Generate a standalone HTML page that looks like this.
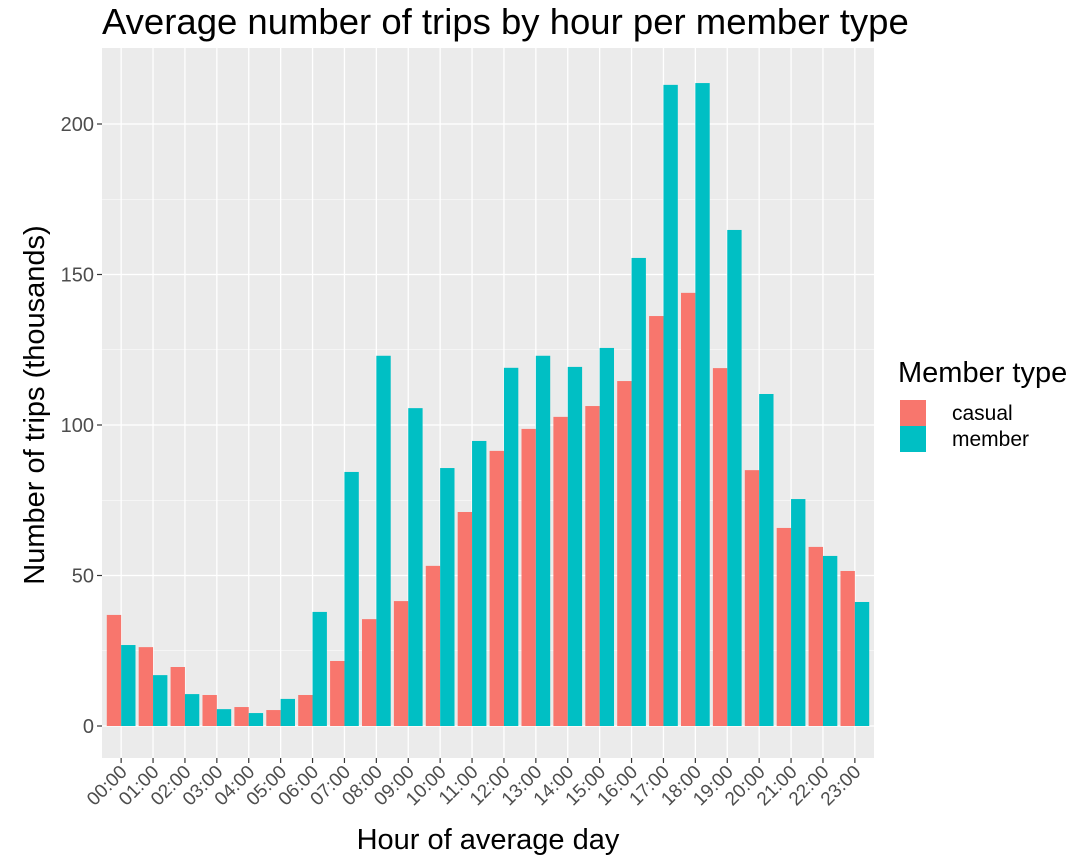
<!DOCTYPE html>
<html><head><meta charset="utf-8"><style>
body{margin:0;background:#fff;}
svg{display:block;font-family:"Liberation Sans",sans-serif;}
</style></head><body>
<svg id="c" width="1084" height="862"></svg>
<script>
const hours=["00:00","01:00","02:00","03:00","04:00","05:00","06:00","07:00","08:00","09:00","10:00","11:00","12:00","13:00","14:00","15:00","16:00","17:00","18:00","19:00","20:00","21:00","22:00","23:00"];
const casualValues=[36.9,26.2,19.6,10.3,6.3,5.3,10.3,21.6,35.5,41.5,53.2,71.1,91.4,98.7,102.7,106.3,114.6,136.2,143.9,118.9,85,65.8,59.5,51.5];
const memberValues=[26.9,16.9,10.6,5.6,4.3,9,37.9,84.4,123,105.6,85.7,94.7,119,123,119.3,125.6,155.5,213,213.6,164.8,110.3,75.4,56.5,41.2];
const yTicks=[0,50,100,150,200];
const NS="http://www.w3.org/2000/svg";
const svg=document.getElementById('c');
const L=102,R=874,T=48,B=758;
const step=(R-L)/24.2;
const xC=i=>L+step*(0.6+i);
const y=v=>726-v*3.01;
function mk(t,a,p){const e=document.createElementNS(NS,t);for(const k in a)e.setAttribute(k,a[k]);(p||svg).appendChild(e);return e;}
const bg=mk('rect',{x:L,y:T,width:R-L,height:B-T,fill:'#ebebeb'});


for(let i=0;i<yTicks.length-1;i++){const v=(yTicks[i]+yTicks[i+1])/2;mk('line',{x1:L,x2:R,y1:y(v),y2:y(v),stroke:'#fff','stroke-width':0.6});}
yTicks.forEach(v=>{
 mk('line',{x1:L,x2:R,y1:y(v),y2:y(v),stroke:'#fff','stroke-width':1.3});
 mk('line',{x1:L-5,x2:L,y1:y(v),y2:y(v),stroke:'#333','stroke-width':1.2});
 const t=mk('text',{x:L-8,y:y(v)+7,'text-anchor':'end','font-size':20,fill:'#4d4d4d'});t.textContent=v;
 
 
});
hours.forEach((h,i)=>{
 const cx=xC(i);
 mk('line',{x1:cx,x2:cx,y1:T,y2:B,stroke:'#fff','stroke-width':1.3});
 mk('line',{x1:cx,x2:cx,y1:B,y2:B+5,stroke:'#333','stroke-width':1.2});
 const t=mk('text',{x:cx+7,y:B+15,'text-anchor':'end','font-size':19,fill:'#4d4d4d',transform:`rotate(-45 ${cx+7} ${B+15})`});t.textContent=h;
 
 
});
const bw=step*0.45;
hours.forEach((h,i)=>{
 const cx=xC(i);
 const a=mk('rect',{x:cx-bw,y:y(casualValues[i]),width:bw,height:y(0)-y(casualValues[i]),fill:'#f8766d'});
 
 
 const b=mk('rect',{x:cx,y:y(memberValues[i]),width:bw,height:y(0)-y(memberValues[i]),fill:'#00bfc4'});
 
 
});
let t=mk('text',{x:102,y:34,'font-size':36.5,fill:'#000'});t.textContent='Average number of trips by hour per member type';

t=mk('text',{x:488,y:849,'text-anchor':'middle','font-size':29,fill:'#000'});t.textContent='Hour of average day';

t=mk('text',{x:44,y:405,'text-anchor':'middle','font-size':29,fill:'#000',transform:'rotate(-90 44 405)'});t.textContent='Number of trips (thousands)';

t=mk('text',{x:898,y:382,'font-size':29,fill:'#000'});t.textContent='Member type';

[['casual','#f8766d',400],['member','#00bfc4',426]].forEach(([n,c,yy])=>{
 const r=mk('rect',{x:900,y:yy,width:26,height:26,fill:c});
 
 const tt=mk('text',{x:952,y:yy+20,'font-size':21,fill:'#000'});tt.textContent=n;
 
});
</script>
</body></html>
